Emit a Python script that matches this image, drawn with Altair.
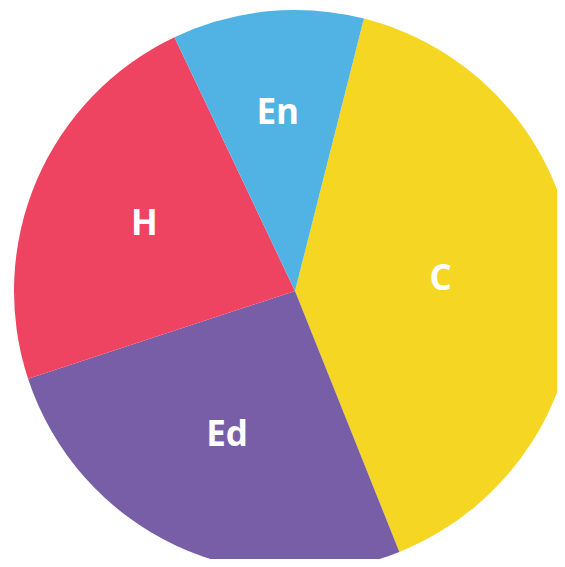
import math
import altair as alt
import pandas as pd

categories = ["C", "Ed", "H", "En"]
values = [40, 26, 23, 11]
colors = ["#f5d723", "#785ea7", "#ef4461", "#50b3e4"]

df = pd.DataFrame({"cat": categories, "val": values, "ord": list(range(len(categories)))})

start = 0.2478
theta_scale = alt.Scale(range=[start, start + 2 * math.pi])

base = alt.Chart(df).encode(
    theta=alt.Theta("val:Q", stack=True, scale=theta_scale),
    order=alt.Order("ord:Q"),
)

pie = base.mark_arc(outerRadius=281, stroke=None, x=287, y=283).encode(
    color=alt.Color("cat:N", scale=alt.Scale(domain=categories, range=colors), legend=None)
)

# smaller slices carry their label further out from the centre
labels = base.mark_text(
    font="Open Sans", fontSize=35, fontWeight="bold",
    color="white", align="center", baseline="middle", x=287, y=283, dy=-2,
    radius=alt.expr("188 - 1.05 * datum.val"),
).encode(text="cat:N")

chart = (pie + labels).properties(
    width=549, height=551, padding=0, autosize="none"
).configure_view(stroke=None)

chart.save("out.html", embed_options={"renderer": "svg", "actions": False})
